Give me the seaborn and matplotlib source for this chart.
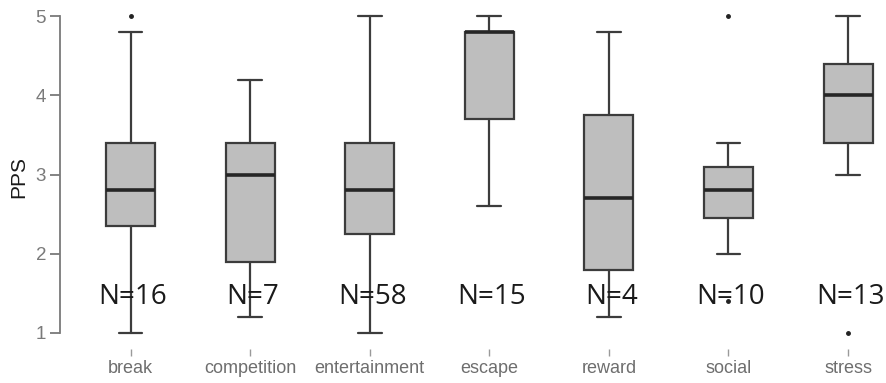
import matplotlib
matplotlib.use('Agg')
import matplotlib.pyplot as plt
import seaborn as sns

categories = ['break', 'competition', 'entertainment', 'escape', 'reward', 'social', 'stress']
n_counts = [16, 7, 58, 15, 4, 10, 13]
whislo = [1.0, 1.2, 1.0, 2.6, 1.2, 2.0, 3.0]
q1 = [2.35, 1.9, 2.25, 3.7, 1.8, 2.45, 3.4]
med = [2.8, 3.0, 2.8, 4.8, 2.7, 2.8, 4.0]
q3 = [3.4, 3.4, 3.4, 4.8, 3.75, 3.1, 4.4]
whishi = [4.8, 4.2, 5.0, 5.0, 4.8, 3.4, 5.0]
fliers = [[5.0], [], [], [], [], [5.0, 1.4], [1.0]]

sns.set_style('white')
plt.rcParams['font.family'] = ['Liberation Sans', 'DejaVu Sans']

# stats for bxp
stats = []
for i, c in enumerate(categories):
    stats.append({'label': c, 'whislo': whislo[i], 'q1': q1[i], 'med': med[i],
                  'q3': q3[i], 'whishi': whishi[i], 'fliers': fliers[i]})

fig = plt.figure(figsize=(8.86, 3.83), dpi=100)
ax = fig.add_axes([0.0677, 0.0893, 0.930, 0.8995])

edge = '#3c3c3c'
ax.bxp(stats, positions=range(len(categories)), widths=0.41, patch_artist=True,
       boxprops=dict(facecolor='#bebebe', edgecolor=edge, linewidth=1.6),
       medianprops=dict(color='#262626', linewidth=2.6),
       whiskerprops=dict(color=edge, linewidth=1.6),
       capprops=dict(color=edge, linewidth=1.6),
       flierprops=dict(marker='o', markersize=2.5, markerfacecolor='#222222',
                       markeredgecolor='#222222'),
       capwidths=0.2)

# N labels
for i, n in enumerate(n_counts):
    ax.text(i + 0.02, 1.45, 'N=%d' % n, ha='center', va='center',
            fontsize=20, color='#1a1a1a', family=['Open Sans', 'DejaVu Sans'], zorder=5)

ax.set_xlim(-0.59, 6.3)
ax.set_ylim(0.8, 5.15)
ax.set_yticks([1, 2, 3, 4, 5])
ax.set_xticks(range(len(categories)))
ax.set_xticklabels(categories)
ax.set_ylabel('PPS', fontsize=15, color='#1a1a1a', labelpad=5)

sns.despine(ax=ax, bottom=True)
ax.spines['left'].set_bounds(1, 5)
ax.spines['left'].set_color('#7a7a7a')
ax.spines['left'].set_linewidth(1.3)
ax.tick_params(axis='y', length=7, width=1.3, color='#7a7a7a', labelcolor='#7a7a7a',
               labelsize=13.5, pad=3, left=True)
ax.tick_params(axis='x', length=5, width=1.0, color='#9a9a9a', labelcolor='#6e6e6e',
               labelsize=13, pad=3, bottom=True)

fig.savefig('out.png', dpi=100)
